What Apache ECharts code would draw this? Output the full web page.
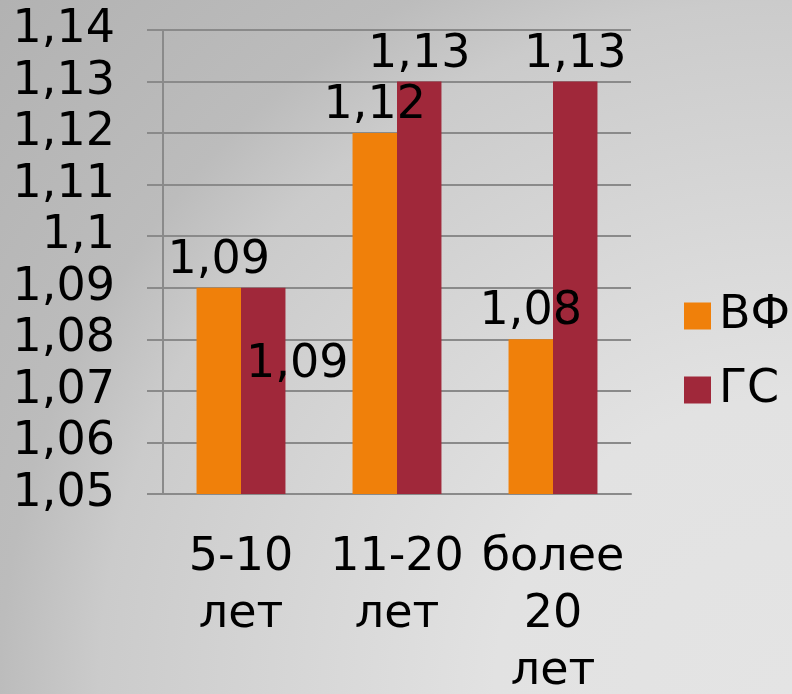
<!DOCTYPE html>
<html>
<head>
<meta charset="utf-8">
<script src="https://cdn.jsdelivr.net/npm/echarts@6/dist/echarts.min.js"></script>
<style>
  html, body { margin: 0; padding: 0; }
  #main { width: 792px; height: 694px; }
</style>
</head>
<body>
<div id="main"></div>
<script>
// категории и значения
const categories = ['5-10\nлет', '11-20\nлет', 'более\n20\nлет'];
const seriesNames = ['ВФ', 'ГС'];
const vfValues = [1.09, 1.12, 1.08];
const gsValues = [1.09, 1.13, 1.13];

const FONT = 'DejaVu Sans';
const FS = 46;

function fmt(v) {
  return String(+(+v).toFixed(2)).replace('.', ',');
}

const myChart = echarts.init(document.getElementById('main'));

myChart.setOption({
  // фон: светлее к правому нижнему углу
  backgroundColor: new echarts.graphic.RadialGradient(1, 1, 1.585, [
    { offset: 0, color: '#e4e4e4' },
    { offset: 0.27, color: '#e2e2e2' },
    { offset: 0.63, color: '#cbcbcb' },
    { offset: 0.72, color: '#bcbcbc' },
    { offset: 1, color: '#b0b0b0' }
  ]),
  textStyle: { fontFamily: FONT },
  animation: false,
  grid: { left: 163, right: 161, top: 30, bottom: 200, outerBoundsMode: 'none', containLabel: false },
  legend: {
    orient: 'vertical',
    left: 679,
    top: 288,
    itemWidth: 27,
    itemHeight: 27,
    itemGap: 28,
    icon: 'rect',
    textStyle: { fontSize: FS, fontFamily: FONT, color: '#000', padding: [0, 0, 0, 3] },
    data: seriesNames
  },
  xAxis: {
    type: 'category',
    data: categories,
    axisLine: { lineStyle: { color: '#8a8a8a', width: 2 } },
    axisTick: { length: 16, lineStyle: { color: '#8a8a8a', width: 2 } },
    axisLabel: {
      fontSize: FS, fontFamily: FONT, color: '#000',
      lineHeight: 57, margin: 36, interval: 0
    }
  },
  yAxis: {
    type: 'value',
    min: 1.05,
    max: 1.14,
    interval: 0.01,
    axisLine: { show: true, lineStyle: { color: '#8a8a8a', width: 2 } },
    axisTick: { show: true, length: 16, lineStyle: { color: '#8a8a8a', width: 2 } },
    splitLine: { lineStyle: { color: '#8a8a8a', width: 2 } },
    axisLabel: {
      fontSize: FS, fontFamily: FONT, color: '#000', margin: 48,
      padding: [4, 0, 0, 0],
      formatter: fmt
    }
  },
  series: [
    {
      name: seriesNames[0],
      type: 'bar',
      data: vfValues,
      barGap: '0%',
      barCategoryGap: '43%',
      itemStyle: { color: '#f0800a' },
      label: {
        show: true, position: 'top', distance: 4,
        fontSize: FS, fontFamily: FONT, color: '#000',
        formatter: p => fmt(p.value)
      }
    },
    {
      name: seriesNames[1],
      type: 'bar',
      data: gsValues.map((v, i) => i === 0
        ? { value: v, label: { offset: [34, 104] } }
        : v),
      barGap: '0%',
      barCategoryGap: '43%',
      itemStyle: { color: '#a0283a' },
      label: {
        show: true, position: 'top', distance: 4,
        fontSize: FS, fontFamily: FONT, color: '#000',
        formatter: p => fmt(p.value)
      }
    }
  ]
});
</script>
</body>
</html>
